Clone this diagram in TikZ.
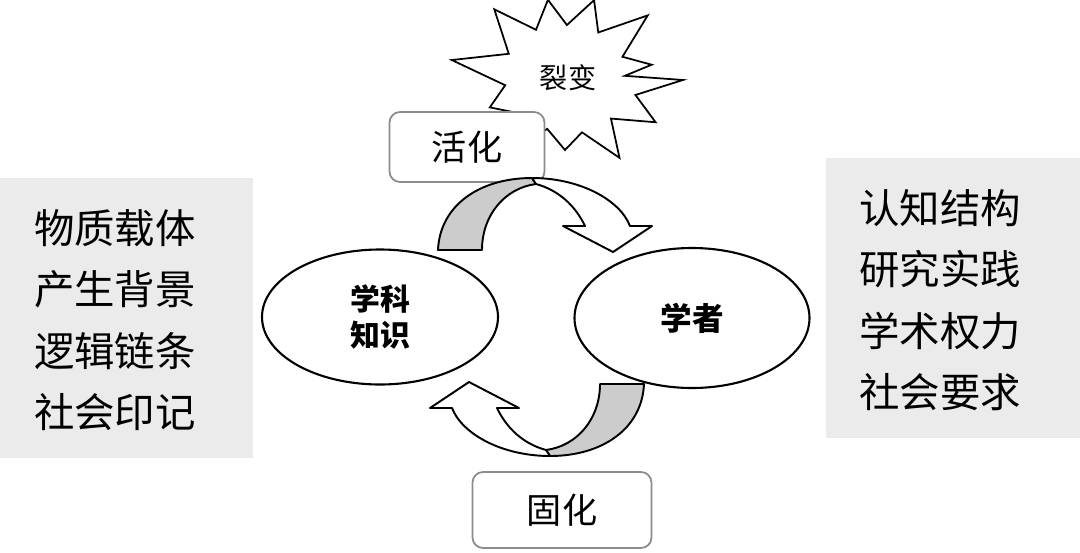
\documentclass[tikz,border=0pt]{standalone}
\usepackage{fontspec}
\usetikzlibrary{shapes.geometric}
\newfontfamily\cjk{Noto Sans CJK SC}
\begin{document}
\begin{tikzpicture}[x=0.02cm,y=-0.02cm,
  panel/.style={fill=black!8,draw=none},
  ptext/.style={font=\cjk\fontsize{23}{35}\selectfont,align=center},
  lbox/.style={draw=black!45,line width=1pt,rounded corners=6pt,fill=white},
  ell/.style={draw,line width=1.2pt,ellipse,fill=white},
  arr/.style={line width=1.1pt,line join=round}]
\useasboundingbox (0,0) rectangle (1080,552);
\node[panel,minimum width=253*0.02cm,minimum height=280*0.02cm,anchor=north west] (lp) at (0,178) {};
\node[panel,minimum width=254*0.02cm,minimum height=280*0.02cm,anchor=north west] (rp) at (826,158) {};
\node[ptext] (lt) at (115,320) {物质载体\\产生背景\\逻辑链条\\社会印记};
\node[ptext] (rt) at (940,300) {认知结构\\研究实践\\学术权力\\社会要求};
% starburst
\draw[line width=1pt,fill=white] (565,80) +(0:118) -- +(12:72) -- +(25:100) -- +(40:60) -- +(55:95) -- +(72:55) -- +(90:70) -- +(110:52) -- +(125:85) -- +(142:55) -- +(160:80) -- +(175:60) -- +(190:115) -- +(205:62) -- +(225:100) -- +(240:58) -- +(258:82) -- +(272:55) -- +(290:85) -- +(305:58) -- +(322:105) -- +(338:62) -- +(350:88) -- +(356:60) -- cycle;
\node[font=\cjk\fontsize{16}{18}\selectfont] (lb) at (568,78) {裂变};
\node[lbox,minimum width=155*0.02cm,minimum height=70*0.02cm,font=\cjk\fontsize{20}{24}\selectfont] (hh) at (467,147) {活化};
\node[lbox,minimum width=179*0.02cm,minimum height=76*0.02cm,font=\cjk\fontsize{20}{24}\selectfont] (gh) at (562,510) {固化};
\node[ell,minimum width=236*0.02cm,minimum height=135*0.02cm] (a) at (380,317) {};
\node[ell,minimum width=235*0.02cm,minimum height=140*0.02cm] (b) at (692,318) {};
\node[font=\cjk\bfseries\fontsize{17}{21}\selectfont,align=center] (at) at (380,317) {学科\\知识};
\node[font=\cjk\bfseries\fontsize{18}{21}\selectfont] (bt) at (692,318) {学者};
% curved arrows
\foreach \r in {0,180}{
\begin{scope}[rotate around={\r:(541,317)}]
\draw[arr,fill=black!20] (438,250) .. controls (440,205) and (480,178) .. (532,178) -- (536,184) .. controls (505,188) and (482,215) .. (482,250) -- cycle;
\draw[arr,fill=white] (532,178) .. controls (580,178) and (620,200) .. (630,226) -- (652,226) -- (613,252) -- (563,226) -- (585,226) .. controls (575,205) and (558,190) .. (536,184) -- cycle;
\end{scope}}
\end{tikzpicture}
\end{document}
